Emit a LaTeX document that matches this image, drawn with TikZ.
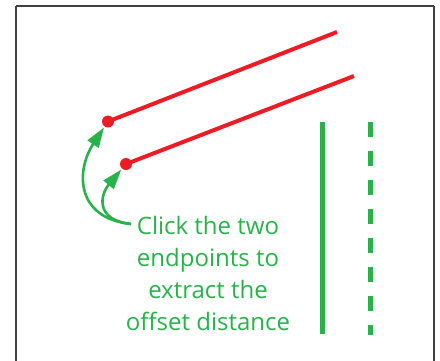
\documentclass[tikz,border=0pt]{standalone}
\usepackage{fontspec}
\setmainfont{Open Sans}
\usepackage{tikz}
\usetikzlibrary{positioning,arrows.meta,calc}
\definecolor{hintgreen}{RGB}{41,178,74}
\definecolor{segred}{RGB}{237,28,36}
\tikzset{
  segment/.style={draw=segred, line width=4pt},
  endpt/.style={circle, fill=segred, inner sep=0pt, minimum size=12pt},
  pointer/.style={draw=hintgreen, line width=2.6pt, shorten >=1pt,
    -{Triangle[length=20pt,width=13pt]}},
  offline/.style={draw=hintgreen, line width=5pt},
  offdash/.style={draw=hintgreen, line width=5pt, dash pattern=on 14.5pt off 14.5pt},
  hint/.style={text=hintgreen, align=center, font=\fontsize{24}{32}\selectfont}
}

\begin{document}
\begin{tikzpicture}[x=1pt,y=-1pt]
    \useasboundingbox (0,0) rectangle (440,360);
    \draw[draw=black!75, line width=1.3pt] (16,6) -- (434,6);
    \draw[draw=black!75, line width=1.3pt] (16,6) -- (16,362);
    \draw[draw=black!75, line width=1.3pt] (434,6) -- (434,362);

    \node[endpt] (p1) at (108,121.5) {};
    \node[endpt] (p2) at (126,164) {};
    \coordinate (q1) at (337,32);
    \coordinate (q2) at (354,76);

    \draw[segment] (p1.center) -- (q1);
    \draw[segment] (p2.center) -- (q2);

    \node[hint, anchor=north] (txt) at (208,213) {Click the two\\endpoints to\\extract the\\offset distance};
    \coordinate (tail) at (131,224);

    \draw[pointer] (tail) .. controls (75,218) and (76,170) .. (p1);
    \draw[pointer] (tail) .. controls (95,220) and (100,195) .. (p2);

    % offset reference lines
    \coordinate (s1) at (322,122);
    \coordinate (s2) at (322,334);
    \coordinate (d1) at (370,122);
    \coordinate (d2) at (370,335);
    \draw[offline] (s1) -- (s2);
    \draw[offdash] (d1) -- (d2);
\end{tikzpicture}
\end{document}
